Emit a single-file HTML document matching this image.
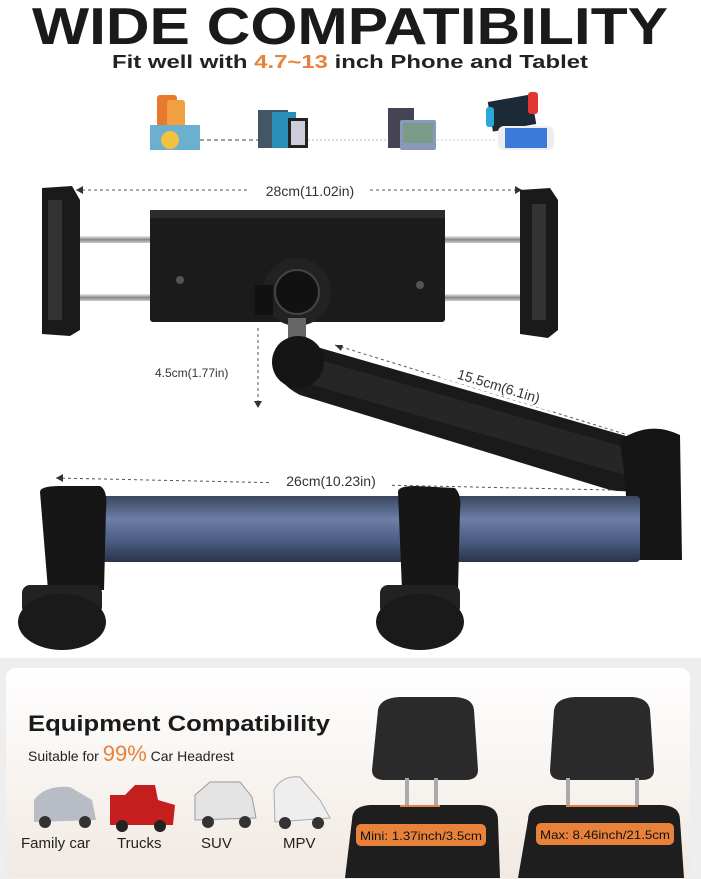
<!DOCTYPE html>
<html><head><meta charset="utf-8"><style>
body{margin:0;background:#fff;}
svg{display:block;font-family:"Liberation Sans",sans-serif;}
</style></head><body>
<svg width="701" height="879" viewBox="0 0 701 879">
<defs>
<linearGradient id="bar" x1="0" y1="0" x2="0" y2="1"><stop offset="0" stop-color="#3a4660"/><stop offset="0.35" stop-color="#6d7fa6"/><stop offset="0.7" stop-color="#4a5a80"/><stop offset="1" stop-color="#2a3348"/></linearGradient>
<linearGradient id="panel" x1="0" y1="0" x2="0" y2="1"><stop offset="0" stop-color="#ffffff"/><stop offset="1" stop-color="#f1e9e2"/></linearGradient>
<linearGradient id="rod" x1="0" y1="0" x2="0" y2="1"><stop offset="0" stop-color="#eee"/><stop offset="0.5" stop-color="#888"/><stop offset="1" stop-color="#ccc"/></linearGradient>
</defs>
<text x="350" y="44" text-anchor="middle" font-size="52" font-weight="bold" fill="#1a1a1a" textLength="636" lengthAdjust="spacingAndGlyphs">WIDE COMPATIBILITY</text>
<text x="350" y="68" text-anchor="middle" font-size="18" font-weight="bold" fill="#222" textLength="476" lengthAdjust="spacingAndGlyphs">Fit well with <tspan fill="#e8823a">4.7~13</tspan> inch Phone and Tablet</text>
<rect x="157" y="95" width="20" height="40" fill="#e87a30" rx="3"/><rect x="167" y="100" width="18" height="36" fill="#f0a040" rx="3"/>
<rect x="150" y="125" width="50" height="25" fill="#6cb0d0"/><circle cx="170" cy="140" r="9" fill="#f3c040"/>
<line x1="200" y1="140" x2="258" y2="140" stroke="#444" stroke-dasharray="4,3"/>
<rect x="258" y="110" width="30" height="38" fill="#456"/><rect x="272" y="112" width="24" height="36" fill="#2a8fb8"/><rect x="288" y="118" width="20" height="30" fill="#222"/><rect x="291" y="121" width="14" height="24" fill="#ccd"/>
<line x1="308" y1="140" x2="387" y2="140" stroke="#bbb" stroke-dasharray="2,2"/>
<rect x="388" y="108" width="26" height="40" fill="#445"/><rect x="400" y="120" width="36" height="30" fill="#8899bb" rx="2"/><rect x="403" y="123" width="30" height="20" fill="#7a9a8a"/>
<line x1="437" y1="140" x2="497" y2="140" stroke="#ccc" stroke-dasharray="2,2"/>
<rect x="490" y="98" width="44" height="30" fill="#1c2a38" transform="rotate(-10 512 113)"/><rect x="528" y="92" width="10" height="22" fill="#e43535" rx="3"/><rect x="486" y="107" width="8" height="20" fill="#2aa8d8" rx="3"/>
<rect x="498" y="126" width="56" height="24" fill="#eee" rx="6"/><rect x="505" y="128" width="42" height="20" fill="#3a7ad8"/>
<line x1="76" y1="190" x2="522" y2="190" stroke="#555" stroke-dasharray="3,3"/>
<path d="M76 190 l7 -4 v8z M522 190 l-7 -4 v8z" fill="#333"/>
<rect x="250" y="180" width="120" height="20" fill="#fff"/>
<text x="310" y="196" text-anchor="middle" font-size="14" fill="#333">28cm(11.02in)</text>
<rect x="70" y="236" width="460" height="7" fill="url(#rod)"/>
<rect x="70" y="294" width="460" height="7" fill="url(#rod)"/>
<path d="M42 188 L72 186 L80 200 L80 330 L70 336 L42 334 Z" fill="#1a1a1a"/>
<path d="M48 200 L62 200 L62 320 L48 320 Z" fill="#333"/>
<path d="M520 190 L550 188 L558 200 L558 330 L548 338 L520 334 Z" fill="#1a1a1a"/>
<path d="M532 204 L546 204 L546 320 L532 320 Z" fill="#333"/>
<rect x="150" y="210" width="295" height="112" fill="#1b1b1b" rx="3"/>
<rect x="150" y="210" width="295" height="8" fill="#2c2c2c"/>
<circle cx="180" cy="280" r="4" fill="#555"/><circle cx="420" cy="285" r="4" fill="#555"/>
<circle cx="297" cy="292" r="34" fill="#222"/><circle cx="297" cy="292" r="22" fill="#111" stroke="#444" stroke-width="2"/>
<rect x="255" y="285" width="18" height="30" fill="#111"/>
<rect x="288" y="318" width="18" height="35" fill="#666"/>
<path d="M275 350 Q285 330 310 345 L640 440 Q665 450 660 480 Q640 495 610 490 L300 395 Q270 380 275 350Z" fill="#1a1a1a"/>
<path d="M320 360 L635 450 L625 475 L312 385Z" fill="#262626"/>
<circle cx="298" cy="362" r="26" fill="#151515"/>
<path d="M620 440 Q650 420 680 435 L682 560 L630 560 L625 480Z" fill="#151515"/>
<line x1="258" y1="328" x2="258" y2="405" stroke="#555" stroke-dasharray="3,3"/>
<path d="M258 408 l-4 -7 h8z" fill="#333"/>
<text x="155" y="377" font-size="12" fill="#333">4.5cm(1.77in)</text>
<line x1="335" y1="345" x2="628" y2="435" stroke="#555" stroke-dasharray="3,3"/>
<path d="M335 345 l8 0 l-2 6z" fill="#333"/>
<rect x="440" y="375" width="118" height="20" fill="#fff" transform="rotate(17 499 385)"/>
<text x="499" y="391" text-anchor="middle" font-size="14" fill="#333" transform="rotate(17 499 385)">15.5cm(6.1in)</text>
<line x1="56" y1="478" x2="612" y2="490" stroke="#555" stroke-dasharray="3,3"/>
<path d="M56 478 l7 -4 v8z" fill="#333"/>
<rect x="272" y="470" width="120" height="20" fill="#fff"/>
<text x="331" y="486" text-anchor="middle" font-size="14" fill="#333">26cm(10.23in)</text>
<rect x="80" y="496" width="560" height="66" fill="url(#bar)" rx="4"/>
<path d="M40 492 Q40 486 60 486 L100 486 Q108 490 106 510 L104 590 L48 590 Z" fill="#161616"/>
<path d="M398 492 Q398 486 415 486 L455 488 Q462 495 460 510 L458 590 L402 590 Z" fill="#161616"/>
<rect x="22" y="585" width="80" height="30" fill="#222" rx="8"/>
<ellipse cx="62" cy="622" rx="44" ry="28" fill="#1a1a1a"/>
<rect x="380" y="585" width="80" height="30" fill="#222" rx="8"/>
<ellipse cx="420" cy="622" rx="44" ry="28" fill="#1a1a1a"/>
<rect x="0" y="658" width="701" height="221" fill="#eeeeee"/>
<rect x="6" y="668" width="684" height="210" rx="10" fill="url(#panel)"/>
<text x="28" y="731" font-size="22" font-weight="bold" fill="#1a1a1a" textLength="302" lengthAdjust="spacingAndGlyphs">Equipment Compatibility</text>
<text x="28" y="761" font-size="14" fill="#222">Suitable for <tspan fill="#e8823a" font-size="22">99%</tspan> Car Headrest</text>
<path d="M34 800 Q45 785 70 787 L92 800 L96 820 L34 822Z" fill="#b8bcc4"/><circle cx="45" cy="822" r="6" fill="#333"/><circle cx="85" cy="822" r="6" fill="#333"/>
<path d="M110 795 L125 795 L135 785 L155 785 L158 800 L175 805 L173 825 L110 825Z" fill="#c41e1e"/><circle cx="122" cy="826" r="6" fill="#222"/><circle cx="160" cy="826" r="6" fill="#222"/>
<path d="M195 795 L210 782 L240 782 L252 797 L256 818 L195 820Z" fill="#e4e4e4" stroke="#999"/><circle cx="208" cy="822" r="6" fill="#333"/><circle cx="245" cy="822" r="6" fill="#333"/>
<path d="M274 790 Q282 775 300 777 L320 800 L330 818 L275 822Z" fill="#eee" stroke="#aaa"/><circle cx="285" cy="823" r="6" fill="#333"/><circle cx="318" cy="823" r="6" fill="#333"/>
<text x="21" y="848" font-size="15" fill="#222">Family car</text>
<text x="117" y="848" font-size="15" fill="#222">Trucks</text>
<text x="201" y="848" font-size="15" fill="#222">SUV</text>
<text x="283" y="848" font-size="15" fill="#222">MPV</text>
<path d="M378 710 Q380 698 400 697 L455 697 Q473 698 474 710 L478 770 Q478 780 465 780 L385 780 Q372 780 372 770Z" fill="#2a2a2a"/>
<rect x="405" y="778" width="4" height="30" fill="#aaa"/><rect x="434" y="778" width="4" height="30" fill="#aaa"/>
<path d="M352 820 Q352 806 370 805 L480 805 Q498 806 498 820 L500 878 L345 878Z" fill="#1e1e1e"/>
<path d="M554 710 Q556 698 575 697 L632 697 Q648 698 650 710 L654 770 Q654 780 642 780 L562 780 Q550 780 550 770Z" fill="#2a2a2a"/>
<rect x="566" y="778" width="4" height="30" fill="#aaa"/><rect x="635" y="778" width="4" height="30" fill="#aaa"/>
<path d="M528 820 Q528 806 546 805 L662 805 Q680 806 680 820 L684 878 L518 878Z" fill="#1e1e1e"/>
<line x1="400" y1="806" x2="440" y2="806" stroke="#e8823a" stroke-width="2"/>
<line x1="566" y1="806" x2="638" y2="806" stroke="#e8823a" stroke-width="2"/>
<rect x="356" y="824" width="130" height="22" rx="5" fill="#e8823a"/>
<text x="421" y="840" text-anchor="middle" font-size="12" fill="#111" textLength="122" lengthAdjust="spacingAndGlyphs">Mini: 1.37inch/3.5cm</text>
<rect x="536" y="823" width="138" height="22" rx="5" fill="#e8823a"/>
<text x="605" y="839" text-anchor="middle" font-size="12" fill="#111" textLength="130" lengthAdjust="spacingAndGlyphs">Max: 8.46inch/21.5cm</text>
</svg>
</body></html>
